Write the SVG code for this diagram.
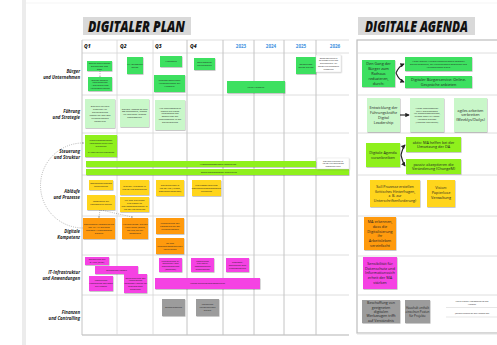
<svg xmlns="http://www.w3.org/2000/svg" width="497" height="345" viewBox="0 0 497 345">
<defs>
<filter id="sh" x="-10%" y="-10%" width="130%" height="140%"><feDropShadow dx="0.5" dy="0.7" stdDeviation="0.4" flood-color="#000" flood-opacity="0.3"/></filter>
<marker id="ar" viewBox="0 0 6 6" refX="5" refY="3" markerWidth="4" markerHeight="4" orient="auto"><path d="M0,0 L6,3 L0,6 z" fill="#222"/></marker>
<marker id="ag" viewBox="0 0 6 6" refX="3" refY="3" markerWidth="3.5" markerHeight="3.5" orient="auto"><circle cx="3" cy="3" r="2" fill="none" stroke="#888" stroke-width="1"/></marker>
<style>
.g{fill:#3ee060;filter:url(#sh)}
.lg{fill:#c9f7c9;filter:url(#sh)}
.li{fill:#8ff01f;filter:url(#sh)}
.y{fill:#ffd51c;filter:url(#sh)}
.o{fill:#ff9a0a;filter:url(#sh)}
.m{fill:#f542e3;filter:url(#sh)}
.gr{fill:#9c9c9c;filter:url(#sh)}
.w{fill:#fff;stroke:#ddd;stroke-width:0.4;filter:url(#sh)}
text{font-family:"Open Sans","Liberation Sans",sans-serif;fill:#222}
.t{font-size:2.4px;text-anchor:middle}
.ta{font-size:3.8px;text-anchor:middle}
.lab{font-size:4.3px;font-weight:700;font-style:italic;text-anchor:end}
.q{font-size:5px;font-weight:800;font-style:italic}
.yr{font-size:4.5px;font-weight:700;fill:#3b8fe0;text-anchor:middle}
.title{font-size:15px;font-weight:800;font-style:italic;fill:#111}
.gl{stroke:#d6d6d6;stroke-width:0.8;fill:none}
.vl{stroke:#c4c4c4;stroke-width:1;fill:none}
.dot{stroke:#999;stroke-width:0.7;stroke-dasharray:1 1.2;fill:none}
.con{stroke:#222;stroke-width:1.1;fill:none}
</style>
</defs>
<rect width="497" height="345" fill="#fff"/>
<rect x="22" y="0" width="4" height="345" fill="#ececec"/>
<line x1="26" y1="3" x2="497" y2="3" stroke="#f2f2f2" stroke-width="0.8"/>

<g id="titles">
<rect x="83" y="17" width="108" height="18" fill="#d9d9d9"/>
<text class="title" x="88" y="31.5" textLength="97" lengthAdjust="spacingAndGlyphs">DIGITALER PLAN</text>
<rect x="358" y="17" width="117" height="18" fill="#d9d9d9"/>
<text class="title" x="365" y="31.5" textLength="103" lengthAdjust="spacingAndGlyphs">DIGITALE AGENDA</text>
</g>

<g id="grid">
<line class="gl" x1="82" y1="40" x2="349" y2="40"/>
<line class="gl" x1="82" y1="53" x2="349" y2="53"/>
<line class="gl" x1="82" y1="95" x2="349" y2="95"/>
<line class="gl" x1="82" y1="133" x2="349" y2="133"/>
<line class="gl" x1="82" y1="175" x2="349" y2="175"/>
<line class="gl" x1="82" y1="216" x2="349" y2="216"/>
<line class="gl" x1="82" y1="255" x2="349" y2="255"/>
<line class="gl" x1="82" y1="295" x2="349" y2="295"/>
<line x1="82" y1="335" x2="349" y2="335" stroke="#ccc" stroke-width="1.5"/>
<line class="vl" x1="82" y1="40" x2="82" y2="335"/>
<line class="gl" x1="117" y1="40" x2="117" y2="335"/>
<line class="gl" x1="153" y1="40" x2="153" y2="335"/>
<line class="vl" x1="187" y1="40" x2="187" y2="335"/>
<line class="vl" x1="223" y1="40" x2="223" y2="335"/>
<line class="vl" x1="254" y1="40" x2="254" y2="335"/>
<line class="vl" x1="284" y1="40" x2="284" y2="335"/>
<line class="vl" x1="316" y1="40" x2="316" y2="335"/>
<text class="q" x="84" y="48">Q1</text>
<text class="q" x="120" y="48">Q2</text>
<text class="q" x="155" y="48">Q3</text>
<text class="q" x="190" y="48">Q4</text>
<text class="yr" x="241" y="48">2023</text>
<text class="yr" x="271" y="48">2024</text>
<text class="yr" x="301" y="48">2025</text>
<text class="yr" x="335" y="48">2026</text>
<rect x="357" y="40" width="145" height="293" fill="none" stroke="#bdbdbd" stroke-width="1.2"/>
<line x1="357" y1="334" x2="497" y2="334" stroke="#e2e2e2" stroke-width="1.2"/>
<line class="gl" x1="357" y1="53" x2="497" y2="53"/>
<line class="gl" x1="357" y1="95" x2="497" y2="95"/>
<line class="gl" x1="357" y1="133" x2="497" y2="133"/>
<line class="gl" x1="357" y1="175" x2="497" y2="175"/>
<line class="gl" x1="357" y1="216" x2="497" y2="216"/>
<line class="gl" x1="357" y1="256" x2="497" y2="256"/>
<line class="gl" x1="357" y1="295" x2="497" y2="295"/>
</g>

<g id="row-labels">
<text class="lab" x="80" y="73">Bürger</text><text class="lab" x="80" y="79">und Unternehmen</text>
<text class="lab" x="80" y="113">Führung</text><text class="lab" x="80" y="119">und Strategie</text>
<text class="lab" x="80" y="153">Steuerung</text><text class="lab" x="80" y="159">und Struktur</text>
<text class="lab" x="80" y="193">Abläufe</text><text class="lab" x="80" y="199">und Prozesse</text>
<text class="lab" x="80" y="233">Digitale</text><text class="lab" x="80" y="239">Kompetenz</text>
<text class="lab" x="80" y="274">IT-Infrastruktur</text><text class="lab" x="80" y="280">und Anwendungen</text>
<text class="lab" x="80" y="314">Finanzen</text><text class="lab" x="80" y="320">und Controlling</text>
</g>

<g id="connectors">
<path class="dot" d="M83,143 A42.5,42.5 0 0 0 83,228" marker-start="url(#ag)"/>
<path class="dot" d="M100,71 L100,77" marker-end="url(#ag)"/>
<path class="dot" d="M100,210 L99,217" marker-end="url(#ag)"/>
<path class="dot" d="M101,210 L132,217" marker-end="url(#ag)"/>
<path class="con" d="M396,73 Q399,66 404,64" marker-end="url(#ar)"/>
<path class="con" d="M396,73 Q399,80 404,82" marker-end="url(#ar)"/>
<path class="con" d="M400,115 L409,115" marker-end="url(#ar)"/>
<path class="con" d="M401,155 Q403,147 405,145" marker-end="url(#ar)"/>
<path class="con" d="M401,155 Q403,163 405,166" marker-end="url(#ar)"/>
</g>

<g id="b1"><rect class="g" x="87" y="61" width="25" height="10"/><text class="t" x="99.5" y="63.9">Beginn schrittweise</text><text class="t" x="99.5" y="66.8">Einführung des</text><text class="t" x="99.5" y="69.7">OZG</text></g>
<g id="b2"><rect class="g" x="88" y="77" width="24" height="14"/><text class="t" x="100" y="80.5">Online-Termin-</text><text class="t" x="100" y="83.4">vereinbarung</text><text class="t" x="100" y="86.3">- Digitalisierung</text><text class="t" x="100" y="89.2">Antragsverfahren</text></g>
<g id="b3"><rect class="g" x="127" y="57" width="16" height="17"/><text class="t" x="135" y="64.9">Kfz-Zulassung</text><text class="t" x="135" y="67.8">online</text></g>
<g id="b4"><rect class="g" x="160" y="56" width="22" height="11"/><text class="t" x="171" y="62.3">Wohngeld</text></g>
<g id="b5"><rect class="g" x="154" y="75" width="31" height="17"/><text class="t" x="169.5" y="81.4">Informationen über</text><text class="t" x="169.5" y="84.3">Veränderungen auf</text><text class="t" x="169.5" y="87.2">Webseite</text></g>
<g id="b6"><rect class="g" x="194" y="58" width="21" height="12"/><text class="t" x="204.5" y="63.4">Serviceportal</text><text class="t" x="204.5" y="66.3">aktualisieren</text></g>
<g id="b7"><rect class="g" x="227" y="81" width="58" height="12"/><text class="t" x="256" y="87.8">Neue Webseite</text></g>
<g id="b8"><rect class="g" x="296" y="57" width="20" height="17"/><text class="t" x="306" y="64.9">Bauanträge</text><text class="t" x="306" y="67.8">online stellen</text></g>
<g id="n1"><rect class="w" x="316" y="55" width="25" height="17"/><text class="t" style="font-size:2.1px" x="328.5" y="58.5">Bedarfsorientierte</text><text class="t" style="font-size:2.1px" x="328.5" y="61.4">Öffnungszeiten und</text><text class="t" style="font-size:2.1px" x="328.5" y="64.3">Erreichbarkeit für</text><text class="t" style="font-size:2.1px" x="328.5" y="67.2">Bürger/Unternehmen</text><text class="t" style="font-size:2.1px" x="328.5" y="70.1">ausweiten</text></g>

<g id="f1"><rect class="lg" x="85" y="99" width="30" height="29"/><text class="t" x="100" y="107.1">Eine DIT-Leitlinie</text><text class="t" x="100" y="110">erstellen zur</text><text class="t" x="100" y="112.9">Digitalisierung</text><text class="t" x="100" y="115.8">umsetzen und den</text><text class="t" x="100" y="118.7">Mitarbeitenden</text><text class="t" x="100" y="121.6">vermitteln</text></g>
<g id="f2"><rect class="lg" x="120" y="99" width="29" height="28"/><text class="t" x="134.5" y="109.5">Digitale Agenda an den</text><text class="t" x="134.5" y="112.4">OB übergeben, Fragen</text><text class="t" x="134.5" y="115.3">zur Digitalen Agenda</text><text class="t" x="134.5" y="118.2">beantworten</text></g>
<g id="f3"><rect class="lg" x="155" y="100" width="30" height="30"/><text class="t" x="170" y="108.6">Alle Führungskräfte</text><text class="t" x="170" y="111.5">haben ein klares</text><text class="t" x="170" y="114.4">Verständnis der</text><text class="t" x="170" y="117.3">Bedeutung der</text><text class="t" x="170" y="120.2">Führungsrolle in der</text><text class="t" x="170" y="123.1">Digitalisierung</text></g>

<g id="s1"><rect class="li" x="85" y="135" width="32" height="22"/><text class="t" x="101" y="141">Projektmanagement</text><text class="t" x="101" y="143.9">implementieren und</text><text class="t" x="101" y="146.8">einführen</text><text class="t" x="101" y="152.6">IT-Controlling ausbauen</text></g>
<g id="bar1"><rect class="li" x="86" y="161" width="230" height="6"/><text class="t" x="218" y="164.8">Wissensmanagement bearbeiten</text></g>
<g id="bar2"><rect class="li" x="86" y="169" width="263" height="6"/><text class="t" x="219" y="172.8">Energiemanagement bearbeiten</text></g>
<g id="n2"><rect class="w" x="317" y="158" width="32" height="11"/><text class="t" style="font-size:2.1px" x="333" y="161.6">Digitalen Prozesse in</text><text class="t" style="font-size:2.1px" x="333" y="164.3">MS TEAMS vollständig</text><text class="t" style="font-size:2.1px" x="333" y="167">abgebildet sind</text></g>

<g id="a1"><rect class="y" x="89" y="180" width="24" height="10"/><text class="t" x="101" y="184.4">Bestandsaufnahme</text><text class="t" x="101" y="187.3">durchführen</text></g>
<g id="a2"><rect class="y" x="87" y="195" width="28" height="15"/><text class="t" x="101" y="201.9">Gespräche mit</text><text class="t" x="101" y="204.8">Fachämtern führen</text></g>
<g id="a3"><rect class="y" x="120" y="180" width="29" height="15"/><text class="t" x="134.5" y="186.9">Digitale Aufgaben in</text><text class="t" x="134.5" y="189.8">MS TEAMS abarbeiten</text></g>
<g id="a4"><rect class="y" x="120" y="197" width="29" height="15"/><text class="t" x="134.5" y="201">Mit den einzelnen</text><text class="t" x="134.5" y="203.9">Prozessen im</text><text class="t" x="134.5" y="206.8">Prozessmanagement in</text><text class="t" x="134.5" y="209.7">MS TEAMS arbeiten</text></g>
<g id="a5"><rect class="y" x="156" y="180" width="28" height="16"/><text class="t" x="170" y="185.9">Digitalisierung in</text><text class="t" x="170" y="188.8">MS TEAMS (Ablage,</text><text class="t" x="170" y="191.7">Dokumentenablage)</text></g>
<g id="a6"><rect class="y" x="192" y="180" width="29" height="16"/><text class="t" x="206.5" y="185.9">Prozessoptimierung</text><text class="t" x="206.5" y="188.8">Dokumentenmanagement</text><text class="t" x="206.5" y="191.7">einführen</text></g>

<g id="k1"><rect class="o" x="83" y="218" width="32" height="21"/><text class="t" x="99" y="225">Schulungen: Kompetenzen</text><text class="t" x="99" y="227.9">der MA zu digitalen</text><text class="t" x="99" y="230.8">Themen / Programmen</text><text class="t" x="99" y="233.7">stärken</text></g>
<g id="k2"><rect class="o" x="122" y="218" width="26" height="21"/><text class="t" x="135" y="225">Weiterbildung: digitale</text><text class="t" x="135" y="227.9">Werkzeuge (Office,</text><text class="t" x="135" y="230.8">TEAMS) gezielt</text><text class="t" x="135" y="233.7">anwenden</text></g>
<g id="k3"><rect class="o" x="156" y="218" width="28" height="16"/><text class="t" x="170" y="223.9">Überprüfung der</text><text class="t" x="170" y="226.8">Kompetenzen der</text><text class="t" x="170" y="229.7">Mitarbeitenden</text></g>
<g id="k4"><rect class="o" x="156" y="238" width="28" height="16"/><text class="t" x="170" y="243.9">für den</text><text class="t" x="170" y="246.8">Informationssicherheit</text><text class="t" x="170" y="249.7">Fortbildung</text></g>

<g id="i1"><rect class="m" x="85" y="257" width="24" height="8"/><text class="t" x="97" y="260.4">Einführung der</text><text class="t" x="97" y="263.3">E-Akte (DMS)</text></g>
<g id="i2"><rect class="m" x="95" y="266" width="43" height="8"/><text class="t" x="116.5" y="270.8">Einführung MS365</text></g>
<g id="i3"><rect class="m" x="89" y="276" width="24" height="15"/><text class="t" x="101" y="281.4">Umstellung</text><text class="t" x="101" y="284.3">Anwendung Software</text><text class="t" x="101" y="287.2">auf MS365</text></g>
<g id="i4"><rect class="m" x="124" y="274" width="23" height="19"/><text class="t" x="135.5" y="278.5">Bereitstellung der</text><text class="t" x="135.5" y="281.4">technischen</text><text class="t" x="135.5" y="284.3">Voraussetzungen für</text><text class="t" x="135.5" y="287.2">Informations-</text><text class="t" x="135.5" y="290.1">sicherheit</text></g>
<g id="i5"><rect class="m" x="159" y="258" width="23" height="14"/><text class="t" x="170.5" y="261.5">Überprüfung IT-</text><text class="t" x="170.5" y="264.4">Sicherheit und</text><text class="t" x="170.5" y="267.3">Datensicherung</text><text class="t" x="170.5" y="270.2">(Backups)</text></g>
<g id="i6"><rect class="m" x="191" y="258" width="23" height="14"/><text class="t" x="202.5" y="261.5">Umstellung</text><text class="t" x="202.5" y="264.4">Netzwerk-</text><text class="t" x="202.5" y="267.3">komponenten</text><text class="t" x="202.5" y="270.2">durchführen</text></g>
<g id="i7"><rect class="m" x="226" y="258" width="23" height="14"/><text class="t" x="237.5" y="262.9">Glasfaser-</text><text class="t" x="237.5" y="265.8">anbindung aller</text><text class="t" x="237.5" y="268.7">Liegenschaften</text></g>
<g id="i8"><rect class="m" x="155" y="278" width="105" height="11"/><text class="t" x="207.5" y="284.3">Neues Ratsinformationssystem</text></g>

<g id="g1"><rect class="gr" x="162" y="299" width="23" height="17"/><text class="t" x="173.5" y="308.3">Budgetplanung</text></g>
<g id="g2"><rect class="gr" x="196" y="299" width="23" height="17"/><text class="t" x="207.5" y="305.4">Förderung</text><text class="t" x="207.5" y="308.3">Förderanträge</text><text class="t" x="207.5" y="311.2">stellen</text></g>

<g id="A1"><rect class="g" x="362" y="60" width="33" height="27"/><text class="ta" x="378.5" y="65.3">Den Gang der</text><text class="ta" x="378.5" y="70.1">Bürger zum</text><text class="ta" x="378.5" y="74.9">Rathaus</text><text class="ta" x="378.5" y="79.7">reduzieren,</text><text class="ta" x="378.5" y="84.5">durch:</text></g>
<g id="A2"><rect class="g" x="405" y="57" width="67" height="14"/><text class="t" x="438.5" y="61.9">Wege: Bürger-/Verwaltungsleistungen komplett</text><text class="t" x="438.5" y="64.8">online abwickeln, mit Unternehmen Bescheide und</text><text class="t" x="438.5" y="67.7">Abrechnungen digital</text></g>
<g id="A3"><rect class="g" x="405" y="76" width="67" height="12"/><text class="ta" x="438.5" y="81">Digitaler Bürgerservice: Online-</text><text class="ta" x="438.5" y="85.8">Gespräche anbieten</text></g>
<g id="A4"><rect class="lg" x="367" y="98" width="33" height="34"/><text class="ta" x="383.5" y="109.2">Entwicklung der</text><text class="ta" x="383.5" y="114">Führungskräfte</text><text class="ta" x="383.5" y="118.8">Digital</text><text class="ta" x="383.5" y="123.6">Leadership</text></g>
<g id="A5"><rect class="lg" x="410" y="98" width="34" height="34"/><text class="t" x="427" y="108.6">Wenn Führungskraft</text><text class="t" x="427" y="111.5">nutzt Dreieckboard</text><text class="t" x="427" y="114.4">zur Dienstbesprechung,</text><text class="t" x="427" y="117.3">in dem jeder MA seine</text><text class="t" x="427" y="120.2">Anliegen einträgt</text><text class="t" x="427" y="123.1">(Versuch einrichten)</text></g>
<g id="A6"><rect class="lg" x="454" y="98" width="33" height="34"/><text class="ta" x="470.5" y="111.6">agiles arbeiten</text><text class="ta" x="470.5" y="116.4">verbreiten</text><text class="ta" x="470.5" y="121.2">(Weeklys/Dailys)</text></g>
<g id="A7"><rect class="li" x="366" y="143" width="34" height="24"/><text class="ta" x="383" y="154">Digitale Agenda</text><text class="ta" x="383" y="158.8">voranbreiben</text></g>
<g id="A8"><rect class="li" x="406" y="137" width="55" height="15"/><text class="ta" x="433.5" y="143.5">aktiv: MA helfen bei der</text><text class="ta" x="433.5" y="148.3">Umsetzung der DA</text></g>
<g id="A9"><rect class="li" x="406" y="159" width="55" height="15"/><text class="ta" x="433.5" y="165.5">passiv: akzeptieren die</text><text class="ta" x="433.5" y="170.3">Veränderung (ChangeM)</text></g>
<g id="A10"><rect class="y" x="370" y="180" width="50" height="27"/><text class="ta" style="font-size:3.6px" x="395" y="187.7">Soll Prozesse erstellen</text><text class="ta" style="font-size:3.6px" x="395" y="192.5">(kritisches Hinterfragen,</text><text class="ta" style="font-size:3.6px" x="395" y="197.3">z. B. zur</text><text class="ta" style="font-size:3.6px" x="395" y="202.1">Unterschriftenforderung)</text></g>
<g id="A11"><rect class="y" x="427" y="180" width="28" height="27"/><text class="ta" x="441" y="189.1">Vision:</text><text class="ta" x="441" y="193.9">Papierlose</text><text class="ta" x="441" y="198.7">Verwaltung</text></g>
<g id="A12"><rect class="o" x="364" y="217" width="32" height="33"/><text class="ta" x="380" y="222.9">MA erkennen,</text><text class="ta" x="380" y="227.7">dass die</text><text class="ta" x="380" y="232.5">Digitalisierung</text><text class="ta" x="380" y="237.3">ihr</text><text class="ta" x="380" y="242.1">Arbeitsleben</text><text class="ta" x="380" y="246.9">vereinfacht</text></g>
<g id="A13"><rect class="m" x="363" y="257" width="34" height="32"/><text class="ta" x="380" y="264.8">Sensibilität für</text><text class="ta" x="380" y="269.6">Datenschutz und</text><text class="ta" x="380" y="274.4">Informationssich</text><text class="ta" x="380" y="279.2">erheit der MA</text><text class="ta" x="380" y="284">stärken</text></g>
<g id="A14"><rect class="gr" x="362" y="300" width="38" height="23"/><text class="ta" style="font-size:3.6px" x="381" y="304.1">Beschaffung von</text><text class="ta" style="font-size:3.6px" x="381" y="308.5">geeigneten</text><text class="ta" style="font-size:3.6px" x="381" y="312.9">digitalen</text><text class="ta" style="font-size:3.6px" x="381" y="317.3">Werkzeugen trifft</text><text class="ta" style="font-size:3.6px" x="381" y="321.7">auf Verständnis</text></g>
<g id="A15"><rect class="gr" x="405" y="300" width="25" height="23"/><text class="ta" style="font-size:3px" x="417.5" y="308.5">Haushalt enthält</text><text class="ta" style="font-size:3px" x="417.5" y="312.9">einzelnen Posten</text><text class="ta" style="font-size:3px" x="417.5" y="317.3">für Projekte</text></g>
<g id="notes">
<text class="t" style="font-size:1.9px" x="472" y="302">WBW2: sichere Ausgestaltung für den</text><text class="t" style="font-size:1.9px" x="472" y="304.6">Haushalt</text>
<line x1="446" y1="307.5" x2="497" y2="307.5" stroke="#ccc" stroke-width="0.5"/>
<text class="t" style="font-size:1.9px" x="472" y="314">Jährliche Planung für den Haushalt des</text>
<line x1="446" y1="317" x2="497" y2="317" stroke="#ccc" stroke-width="0.5"/>
</g>
</svg>
